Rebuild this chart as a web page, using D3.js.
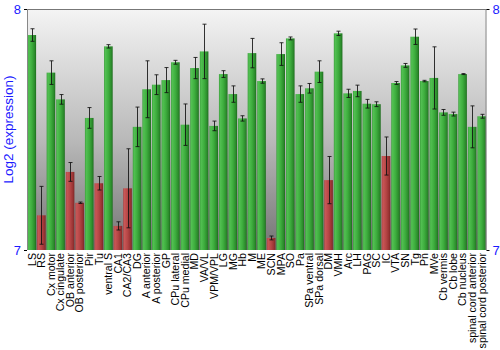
<!DOCTYPE html>
<html>
<head>
<meta charset="utf-8">
<script src="https://cdn.jsdelivr.net/npm/d3@7"></script>
<style>
  html, body { margin: 0; padding: 0; background: #fff; }
  svg { display: block; font-family: "Liberation Sans", Arial, sans-serif; }
</style>
</head>
<body>
<svg id="chart" width="500" height="350"></svg>
<script>
// Brain regions, in display order
const regions = [
  "LS", "RS", "Cx motor", "Cx cingulate", "OB anterior", "OB posterior", "Pir", "Tu",
  "ventral S", "CA1", "CA2/CA3", "DG", "A anterior", "A posterior", "GP", "CPu lateral",
  "CPu medial", "MD", "VA/VL", "VPM/VPL", "LG", "MG", "Hb", "M", "ME", "SCN", "MPA", "SO",
  "Pa", "SPa ventral", "SPa dorsal", "DM", "VMH", "Arc", "LH", "PAG", "SC", "IC", "VTA",
  "SN", "Tg", "Pn", "MVe", "Cb vermis", "Cb lobe", "Cb nucleus",
  "spinal cord anterior", "spinal cord posterior"
];

// Mean log2 expression per region
const expression = [
  7.892, 7.144, 7.736, 7.625, 7.324, 7.196, 7.548, 7.277,
  7.845, 7.100, 7.256, 7.511, 7.667, 7.686, 7.705, 7.779,
  7.520, 7.755, 7.824, 7.515, 7.730, 7.647, 7.546, 7.817, 7.701, 7.050, 7.813, 7.878,
  7.647, 7.671, 7.740, 7.290, 7.899, 7.650, 7.660, 7.607, 7.605, 7.390, 7.693,
  7.766, 7.885, 7.701, 7.714, 7.571, 7.564, 7.730,
  7.511, 7.555
];

// Standard error per region
const stdError = [
  0.026, 0.120, 0.049, 0.020, 0.039, 0.003, 0.043, 0.028,
  0.007, 0.017, 0.164, 0.082, 0.118, 0.041, 0.052, 0.008,
  0.086, 0.044, 0.113, 0.020, 0.014, 0.034, 0.011, 0.061, 0.009, 0.008, 0.047, 0.006,
  0.034, 0.020, 0.045, 0.098, 0.009, 0.017, 0.024, 0.018, 0.010, 0.079, 0.006,
  0.008, 0.032, 0.003, 0.129, 0.012, 0.008, 0.002,
  0.087, 0.008
];

// Regions flagged low (drawn red)
const lowRegions = ["RS", "OB anterior", "OB posterior", "Tu", "CA1", "CA2/CA3", "SCN", "DM", "IC"];

const yTicks = [7, 8];

const svg = d3.select("#chart");
const margin = { top: 9, right: 13.5, bottom: 100, left: 27 };
const W = 500, H = 350;
const innerW = W - margin.left - margin.right;
const innerH = H - margin.top - margin.bottom;

const x = d3.scaleBand().domain(regions).range([0, innerW]).paddingInner(0.1).paddingOuter(0.05);
const y = d3.scaleLinear().domain([7, 8]).range([innerH, 0]);

const defs = svg.append("defs");

const bg = defs.append("linearGradient").attr("id", "bgGrad")
  .attr("x1", 0).attr("y1", 0).attr("x2", 0).attr("y2", 1);
bg.append("stop").attr("offset", "0%").attr("stop-color", "#f4f4f4");
bg.append("stop").attr("offset", "55%").attr("stop-color", "#b8b8b8");
bg.append("stop").attr("offset", "100%").attr("stop-color", "#747474");

function barGradient(id, stops) {
  const g = defs.append("linearGradient").attr("id", id)
    .attr("x1", 0).attr("y1", 0).attr("x2", 1).attr("y2", 0);
  stops.forEach(([o, c]) => g.append("stop").attr("offset", o).attr("stop-color", c));
}
barGradient("greenGrad", [["0%", "#3c9c3c"], ["15%", "#52c052"], ["50%", "#3eae3e"], ["85%", "#2b8a2b"], ["100%", "#1c6a1c"]]);
barGradient("redGrad", [["0%", "#a84242"], ["15%", "#c85656"], ["50%", "#b64646"], ["85%", "#973232"], ["100%", "#7a2626"]]);

const g = svg.append("g").attr("transform", `translate(${margin.left},${margin.top})`);

// plot background
g.append("rect").attr("x", 0).attr("y", 0).attr("width", innerW).attr("height", innerH)
  .attr("fill", "url(#bgGrad)");

const data = regions.map((r, i) => ({ region: r, value: expression[i], se: stdError[i], low: lowRegions.includes(r) }));

// bars
g.selectAll("rect.bar").data(data).join("rect")
  .attr("class", "bar")
  .attr("x", d => x(d.region))
  .attr("y", d => y(d.value))
  .attr("width", x.bandwidth())
  .attr("height", d => innerH - y(d.value))
  .attr("fill", d => d.low ? "url(#redGrad)" : "url(#greenGrad)");

// error bars
const eb = g.selectAll("g.err").data(data).join("g").attr("class", "err")
  .attr("stroke", "#111").attr("stroke-width", 1).attr("stroke-opacity", 0.85);
const cx = d => Math.round(x(d.region) + x.bandwidth() / 2) + 0.5;
eb.append("line")
  .attr("x1", cx).attr("x2", cx)
  .attr("y1", d => y(d.value + d.se)).attr("y2", d => y(d.value - d.se));
eb.append("line")
  .attr("x1", d => cx(d) - 2).attr("x2", d => cx(d) + 2)
  .attr("y1", d => y(d.value + d.se)).attr("y2", d => y(d.value + d.se));
eb.append("line")
  .attr("x1", d => cx(d) - 2).attr("x2", d => cx(d) + 2)
  .attr("y1", d => y(d.value - d.se)).attr("y2", d => y(d.value - d.se));

// frame: top, left and right edges
g.append("line").attr("x1", 0).attr("x2", innerW).attr("y1", 0.5).attr("y2", 0.5)
  .attr("stroke", "#777").attr("stroke-width", 1);
g.append("line").attr("x1", 0.5).attr("x2", 0.5).attr("y1", 0).attr("y2", innerH)
  .attr("stroke", "#888").attr("stroke-width", 1);
g.append("line").attr("x1", innerW - 0.5).attr("x2", innerW - 0.5).attr("y1", 0).attr("y2", innerH)
  .attr("stroke", "#888").attr("stroke-width", 1);

// y axes (left and right)
const leftAxis = d3.axisLeft(y).tickValues(yTicks).tickFormat(d3.format("d")).tickSize(3).tickSizeOuter(0);
const rightAxis = d3.axisRight(y).tickValues(yTicks).tickFormat(d3.format("d")).tickSize(3).tickSizeOuter(0);
[ [leftAxis, 0], [rightAxis, innerW] ].forEach(([ax, tx]) => {
  const a = g.append("g").attr("transform", `translate(${tx},0)`).call(ax);
  a.select(".domain").remove();
  a.selectAll(".tick line").attr("stroke", "#000");
  a.selectAll(".tick text").attr("fill", "#1a1aff").attr("font-size", 13)
    .attr("font-family", "'Liberation Sans', Arial, sans-serif");
});

// category labels
const xAxis = d3.axisBottom(x).tickSize(0);
const xa = g.append("g").attr("transform", `translate(0,${innerH})`).call(xAxis);
xa.select(".domain").remove();
xa.selectAll(".tick text")
  .attr("transform", "rotate(-90)")
  .attr("text-anchor", "end")
  .attr("x", -3).attr("y", 0).attr("dy", "0.36em")
  .attr("fill", "#000").attr("font-size", 10.6)
  .attr("font-family", "'Liberation Sans', Arial, sans-serif");

// y axis title
svg.append("text")
  .attr("transform", `translate(13,${margin.top + innerH / 2}) rotate(-90)`)
  .attr("text-anchor", "middle")
  .attr("fill", "#1a1aff").attr("font-size", 13.5)
  .text("Log2 (expression)");
</script>
</body>
</html>
